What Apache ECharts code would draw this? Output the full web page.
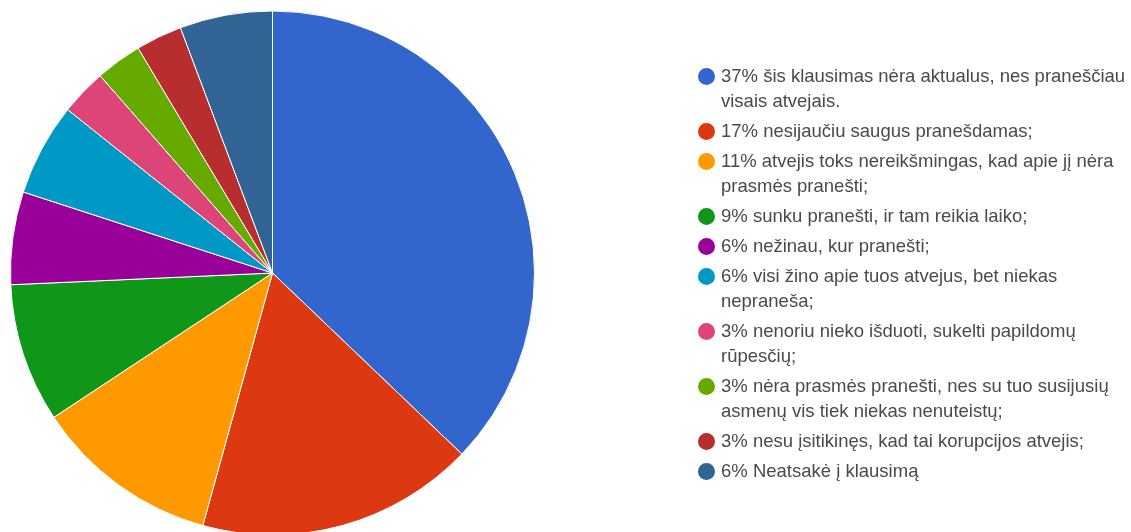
<!DOCTYPE html>
<html>
<head>
<meta charset="utf-8">
<script src="https://cdn.jsdelivr.net/npm/echarts@6/dist/echarts.min.js"></script>
<style>
    html, body { margin: 0; padding: 0; background: #fff; }
    #main { width: 1131px; height: 532px; }
</style>
</head>
<body>
<div id="main"></div>
<script>
// atsakymų skaičius (35 respondentai)
var answers = [
    'šis klausimas nėra aktualus, nes praneščiau\nvisais atvejais.',
    'nesijaučiu saugus pranešdamas;',
    'atvejis toks nereikšmingas, kad apie jį nėra\nprasmės pranešti;',
    'sunku pranešti, ir tam reikia laiko;',
    'nežinau, kur pranešti;',
    'visi žino apie tuos atvejus, bet niekas\nnepraneša;',
    'nenoriu nieko išduoti, sukelti papildomų\nrūpesčių;',
    'nėra prasmės pranešti, nes su tuo susijusių\nasmenų vis tiek niekas nenuteistų;',
    'nesu įsitikinęs, kad tai korupcijos atvejis;',
    'Neatsakė į klausimą'
];
var counts = [13, 6, 4, 3, 2, 2, 1, 1, 1, 2];
var colors = ['#3366cc', '#dc3912', '#ff9900', '#109618', '#990099', '#0099c6', '#dd4477', '#66aa00', '#b82e2e', '#316395'];

var total = counts.reduce(function (a, b) { return a + b; }, 0);

function pct(i) {
    return Math.round(counts[i] / total * 100) + '% ';
}

var pieData = [];
for (var i = 0; i < answers.length; i++) {
    pieData.push({ name: pct(i) + answers[i], value: counts[i] });
}

// vienas legendos elementas kiekvienam atsakymui, kad ikona būtų prie pirmos eilutės
var lineH = 25;
var gap = 5;
var legends = [];
var center = 76.5;
for (var j = 0; j < pieData.length; j++) {
    var lines = pieData[j].name.split('\n').length;
    var extra = (lines - 1) * lineH;
    legends.push({
        orient: 'vertical',
        left: 696,
        top: center - lineH / 2 - extra,
        padding: 0,
        itemWidth: 19,
        itemHeight: 19,
        itemGap: 0,
        icon: 'circle',
        selectedMode: false,
        data: [pieData[j].name],
        // tuščia eilutė viršuje, kad pirmoji eilutė būtų ties ikona
        formatter: function (name) {
            var n = name.split('\n').length;
            return new Array(n).join('\n') + name;
        },
        textStyle: {
            fontFamily: 'Liberation Sans, Arial, sans-serif',
            fontSize: 18.5,
            color: '#4a4a4a',
            lineHeight: lineH
        }
    });
    center += lines * lineH + gap;
}

var myChart = echarts.init(document.getElementById('main'));
var option = {
    color: colors,
    animation: false,
    legend: legends,
    series: [
        {
            type: 'pie',
            center: [272.5, 273],
            radius: 262,
            startAngle: 90,
            clockwise: true,
            label: { show: false },
            labelLine: { show: false },
            itemStyle: {
                borderColor: '#fff',
                borderWidth: 1
            },
            emphasis: { disabled: true },
            data: pieData
        }
    ]
};
myChart.setOption(option);
</script>
</body>
</html>
